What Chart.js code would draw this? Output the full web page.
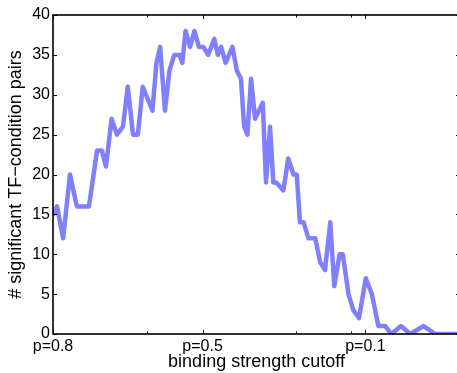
<!DOCTYPE html>
<html><head><meta charset="utf-8">
<script src="https://cdn.jsdelivr.net/npm/chart.js@4/dist/chart.umd.min.js"></script>
<style>html,body{margin:0;padding:0;background:#fff;overflow:hidden}canvas{display:block}</style>
</head><body>
<canvas id="c" width="461" height="373"></canvas>
<script>
// binding strength cutoff position (axis units) and number of significant TF-condition pairs
const cutoffs = [0, 1.0, 2.5, 4.2, 5.9, 8.9, 10.9, 12.1, 13.1, 14.5, 15.8, 17.3, 18.5, 19.8, 21.0, 22.2, 23.0, 24.6, 25.6, 26.5,
  27.7, 28.8, 30.0, 31.3, 32.0, 32.8, 33.9, 35.0, 36.1, 37.2, 38.4, 39.9, 40.8, 41.6, 42.7, 44.4, 45.5, 46.5, 47.3, 48.1,
  49.0, 50.0, 51.9, 52.7, 53.7, 54.5, 55.2, 57.0, 58.2, 59.5, 60.3, 61.1, 62.0, 63.2, 64.9, 66.1, 67.3, 68.6, 69.6, 70.9,
  71.7, 73.1, 74.3, 75.7, 77.4, 78.9, 80.5, 82.2, 83.7, 86.1, 88.4, 91.7, 94.6, 100];
const pairs = [15, 16, 12, 20, 16, 16, 23, 23, 21, 27, 25, 26, 31, 25, 25, 31, 30, 28, 34, 36,
  28, 33, 35, 35, 34, 38, 36, 38, 36, 36, 35, 37, 35, 36, 34, 36, 33, 32, 26, 25,
  32, 27, 29, 19, 26, 19, 19, 18, 22, 20, 20, 14, 14, 12, 12, 9, 8, 14, 6, 10,
  10, 5, 3, 2, 7, 5, 1, 1, 0, 1, 0, 1, 0, 0];
const yTicks = [0, 5, 10, 15, 20, 25, 30, 35, 40];
const xTickPos = [0, 23.3, 37.0, 60.2, 73.8, 77.3];
const xTickLabels = ['p=0.8', '', 'p=0.5', '', '', 'p=0.1'];
const xTickMajor = [true, false, true, false, false, true];

Chart.defaults.font.family = '"Liberation Sans", Arial, Helvetica, sans-serif';
Chart.defaults.color = '#000';

const framePlugin = {
  id: 'frame',
  afterDatasetsDraw(chart) {
    const {ctx, chartArea: a, scales: {x, y}} = chart;
    ctx.save();
    ctx.strokeStyle = '#000';
    ctx.lineWidth = 1;
    ctx.beginPath();
    yTicks.forEach(v => {
      const py = Math.round(y.getPixelForValue(v)) + 0.5;
      ctx.moveTo(a.left, py); ctx.lineTo(a.left + 4, py);
      ctx.moveTo(a.right, py); ctx.lineTo(a.right - 4, py);
    });
    xTickPos.forEach((v, i) => {
      const px = Math.round(x.getPixelForValue(v)) + 0.5;
      const L = xTickMajor[i] ? 4 : 2.5;
      ctx.moveTo(px, a.bottom); ctx.lineTo(px, a.bottom - L);
      ctx.moveTo(px, a.top); ctx.lineTo(px, a.top + L);
    });
    ctx.stroke();
    ctx.lineWidth = 1.6;
    ctx.strokeRect(a.left, a.top, a.right - a.left, a.bottom - a.top);
    ctx.restore();
  }
};

new Chart(document.getElementById('c'), {
  type: 'line',
  data: {
    datasets: [{
      data: cutoffs.map((c, i) => ({x: c, y: pairs[i]})),
      borderColor: 'rgb(128,128,255)',
      borderWidth: 4.5,
      pointRadius: 0,
      tension: 0,
      fill: false,
      borderJoinStyle: 'round',
      borderCapStyle: 'round'
    }]
  },
  options: {
    responsive: false,
    animation: false,
    devicePixelRatio: 1,
    layout: {padding: {top: 15, right: 1, bottom: 0, left: 0}},
    plugins: {legend: {display: false}, tooltip: {enabled: false}},
    scales: {
      x: {
        type: 'linear',
        min: 0,
        max: 100.7,
        grid: {display: false, drawTicks: false},
        border: {display: false},
        afterBuildTicks(s) { s.ticks = xTickPos.map(v => ({value: v})); },
        afterFit(s) { s.height = 39; },
        ticks: {
          autoSkip: false, maxRotation: 0, minRotation: 0, padding: 3,
          font: {size: 16},
          callback: (v, i) => xTickLabels[i]
        },
        title: {display: true, text: 'binding strength cutoff', font: {size: 18}, padding: {top: 0, bottom: 0}}
      },
      y: {
        type: 'linear',
        min: 0,
        max: 40,
        grid: {display: false, drawTicks: false},
        border: {display: false},
        afterBuildTicks(s) { s.ticks = yTicks.map(v => ({value: v})); },
        afterFit(s) { s.width = 53; },
        ticks: {padding: 3, font: {size: 16}},
        title: {display: true, text: '# significant TF\u2212condition pairs', font: {size: 18}, padding: {top: 5, bottom: 0}}
      }
    }
  },
  plugins: [framePlugin]
});
</script>
</body></html>
